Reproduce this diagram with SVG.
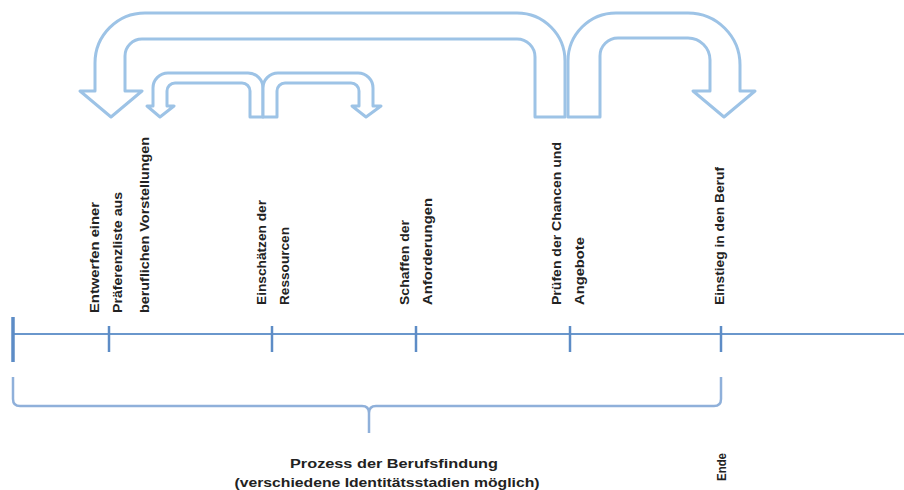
<svg xmlns="http://www.w3.org/2000/svg" width="904" height="490" viewBox="0 0 904 490">
<style>
.arr{fill:#fff;stroke:#9dc3e6;stroke-width:3;stroke-linejoin:round}
.axis{stroke:#6a97cc;stroke-width:2;fill:none}
.tick{stroke:#5d8cc6;stroke-width:2.5}
.brace{stroke:#8fb0da;stroke-width:2.5;fill:none}
.lbl{font-family:"Liberation Sans",Arial,sans-serif;font-weight:bold;font-size:12px;fill:#222}
.cap{font-family:"Liberation Sans",Arial,sans-serif;font-weight:bold;font-size:13px;fill:#222;text-anchor:middle}
</style>
<rect width="904" height="490" fill="#fff"/>
<g id="connectors">
<path id="arrow-big-left" class="arr" d="M565,117 L565,61 A48,48 0 0 0 517,13 L145,13 A50,50 0 0 0 95,63 L95,91 L80,91 L111,117 L142,91 L125,91 L125,56 A17,17 0 0 1 142,39 L517,39 A18,18 0 0 1 535,57 L535,117 Z"/>
<path id="arrow-big-right" class="arr" d="M568,117 L568,61 A48,48 0 0 1 616,13 L688,13 A52,52 0 0 1 740,65 L740,91 L755,91 L724,117 L693,91 L710,91 L710,60 A22,22 0 0 0 688,38 L618,38 A18,18 0 0 0 600,56 L600,117 Z"/>
<path id="arrow-small-left" class="arr" d="M263,117 L263,88 A15,15 0 0 0 248,73 L168,73 A15,15 0 0 0 153,88 L153,106 L147,106 L160,117 L174,106 L167,106 L167,91 A8,8 0 0 1 175,83 L242,83 A8,8 0 0 1 250,91 L250,117 Z"/>
<path id="arrow-small-right" class="arr" d="M263,117 L263,88 A15,15 0 0 1 278,73 L358,73 A15,15 0 0 1 373,88 L373,106 L381,106 L366,117 L352,106 L359,106 L359,91 A8,8 0 0 0 351,83 L285,83 A8,8 0 0 0 277,91 L277,117 Z"/>
</g>
<g id="timeline">
<line class="axis" x1="13" y1="334" x2="904" y2="334"/>
<line class="tick" x1="13" y1="317" x2="13" y2="362" style="stroke-width:3.5"/>
<line class="tick" x1="109" y1="326" x2="109" y2="352"/>
<line class="tick" x1="272" y1="326" x2="272" y2="352"/>
<line class="tick" x1="416" y1="326" x2="416" y2="352"/>
<line class="tick" x1="570" y1="326" x2="570" y2="352"/>
<line class="tick" x1="721" y1="326" x2="721" y2="352"/>
</g>
<g id="brace">
<path class="brace" d="M13,377 L13,399 Q13,406 20,406 L362,406 Q369,406 369,413 L369,433 M369,413 Q369,406 376,406 L714,406 Q721,406 721,399 L721,377"/>
</g>
<g id="node-praeferenzliste">
<text class="lbl" transform="translate(99,313) rotate(-90)" textLength="111" lengthAdjust="spacingAndGlyphs">Entwerfen einer</text>
<text class="lbl" transform="translate(122,313) rotate(-90)" textLength="121" lengthAdjust="spacingAndGlyphs">Präferenzliste aus</text>
<text class="lbl" transform="translate(149,313) rotate(-90)" textLength="176" lengthAdjust="spacingAndGlyphs">beruflichen Vorstellungen</text>
</g>
<g id="node-ressourcen">
<text class="lbl" transform="translate(266,305) rotate(-90)" textLength="105" lengthAdjust="spacingAndGlyphs">Einschätzen der</text>
<text class="lbl" transform="translate(289,305) rotate(-90)" textLength="78" lengthAdjust="spacingAndGlyphs">Ressourcen</text>
</g>
<g id="node-anforderungen">
<text class="lbl" transform="translate(409,305) rotate(-90)" textLength="85" lengthAdjust="spacingAndGlyphs">Schaffen der</text>
<text class="lbl" transform="translate(432,305) rotate(-90)" textLength="107" lengthAdjust="spacingAndGlyphs">Anforderungen</text>
</g>
<g id="node-chancen">
<text class="lbl" transform="translate(561,305) rotate(-90)" textLength="163" lengthAdjust="spacingAndGlyphs">Prüfen der Chancen und</text>
<text class="lbl" transform="translate(584,305) rotate(-90)" textLength="68" lengthAdjust="spacingAndGlyphs">Angebote</text>
</g>
<g id="node-einstieg">
<text class="lbl" transform="translate(724,305) rotate(-90)" textLength="138" lengthAdjust="spacingAndGlyphs">Einstieg in den Beruf</text>
</g>
<g id="node-ende">
<text class="lbl" transform="translate(726,481) rotate(-90)" style="font-size:13px" textLength="28" lengthAdjust="spacingAndGlyphs">Ende</text>
</g>
<g id="caption">
<text class="cap" x="394" y="468" textLength="208" lengthAdjust="spacingAndGlyphs">Prozess der Berufsfindung</text>
<text class="cap" x="387" y="487" textLength="305" lengthAdjust="spacingAndGlyphs">(verschiedene Identitätsstadien möglich)</text>
</g>
</svg>
